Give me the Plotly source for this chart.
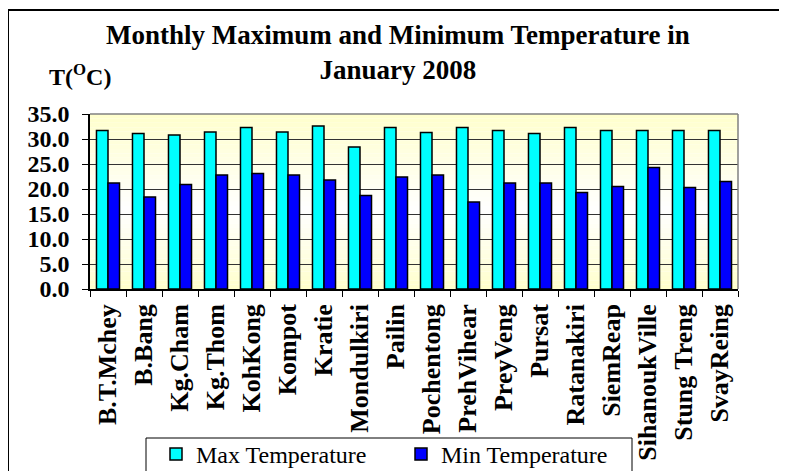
import plotly.graph_objects as go

stations = ["B.T.Mchey", "B.Bang", "Kg.Cham", "Kg.Thom", "KohKong", "Kompot", "Kratie",
            "Mondulkiri", "Pailin", "Pochentong", "PrehVihear", "PreyVeng", "Pursat",
            "Ratanakiri", "SiemReap", "SihanoukVille", "Stung Treng", "SvayReing"]
max_temp = [31.7, 31.1, 30.8, 31.4, 32.3, 31.4, 32.6, 28.4, 32.3, 31.3, 32.3, 31.7,
            31.1, 32.3, 31.7, 31.7, 31.7, 31.7]
min_temp = [21.2, 18.4, 20.9, 22.8, 23.1, 22.8, 21.8, 18.7, 22.4, 22.8, 17.4, 21.2,
            21.2, 19.3, 20.5, 24.3, 20.3, 21.5]
y_ticks = [0, 5, 10, 15, 20, 25, 30, 35]

# page has an 8px body margin; build the figure to fit inside the window
O = 8
W, H = 787 - O, 471 - O
# plot area in page pixels: x 90..738, y 114..289
L, R, T, B = 90 - O, 787 - 738, 114 - O, 471 - 289
pw, ph = W - L - R, H - T - B

def px_x(x):  # page pixel -> paper
    return (x - O - L) / pw

def px_y(y):
    return (H - B - (y - O)) / ph

FONT = "Liberation Serif, Times New Roman, DejaVu Serif, serif"

fig = go.Figure()
fig.add_trace(go.Bar(name="Max Temperature", x=stations, y=max_temp,
                     marker=dict(color="#00FFFF", line=dict(color="black", width=1.5))))
fig.add_trace(go.Bar(name="Min Temperature", x=stations, y=min_temp,
                     marker=dict(color="#0000FF", line=dict(color="black", width=1.5))))

shapes = []
# gradient background of plot area
n = 40
for i in range(n):
    t = (i + 0.5) / n  # 0 bottom, 1 top
    c = 0.45
    d = abs(t - c) / (c if t < c else 1 - c)
    b = int(round(255 - (255 - 204) * d))
    shapes.append(dict(type="rect", xref="x domain", yref="y domain",
                       x0=0, x1=1, y0=i / n, y1=(i + 1) / n,
                       fillcolor=f"rgb(255,255,{b})", line=dict(width=0), layer="below"))
# plot area border (top/right gray)
shapes.append(dict(type="line", xref="paper", yref="paper", x0=0, x1=1, y0=1, y1=1,
                   line=dict(color="#808080", width=1.5)))
shapes.append(dict(type="line", xref="paper", yref="paper", x0=1, x1=1, y0=0, y1=1,
                   line=dict(color="#808080", width=1.5)))
# outer chart border
shapes.append(dict(type="rect", xref="paper", yref="paper",
                   x0=px_x(8), x1=px_x(780), y0=px_y(480), y1=px_y(10),
                   line=dict(color="black", width=2), fillcolor="rgba(0,0,0,0)"))
# legend box
shapes.append(dict(type="rect", xref="paper", yref="paper",
                   x0=px_x(146), x1=px_x(632), y0=px_y(485), y1=px_y(438),
                   line=dict(color="black", width=1), fillcolor="white", layer="above"))

fig.update_layout(
    width=W, height=H,
    margin=dict(l=L, r=R, t=T, b=B, autoexpand=False),
    paper_bgcolor="white", plot_bgcolor="rgba(0,0,0,0)",
    barmode="group", bargap=0.36, bargroupgap=0,
    font=dict(family=FONT, color="black"),
    xaxis=dict(type="category", tickangle=-90, showgrid=False, automargin=False,
               showline=True, linecolor="black", linewidth=1.5,
               ticks="outside", tickson="boundaries", ticklen=6, tickcolor="black",
               tickfont=dict(size=26, family=FONT, color="black", weight="bold"),
               ticklabelstandoff=3),
    yaxis=dict(range=[0, 35], tickvals=y_ticks, tickformat=".1f", automargin=False,
               showgrid=True, gridcolor="#333333", gridwidth=1,
               showline=True, linecolor="black", linewidth=1.5,
               ticks="outside", ticklen=6, tickcolor="black", zeroline=False,
               tickfont=dict(size=24, family=FONT, color="black", weight="bold"),
               ticklabelstandoff=8),
    legend=dict(orientation="h", x=px_x(156), y=px_y(432), xanchor="left", yanchor="top",
                borderwidth=0, bgcolor="rgba(0,0,0,0)",
                font=dict(size=24, family=FONT, color="black", weight="normal"),
                entrywidth=200, traceorder="normal"),
    shapes=shapes,
    annotations=[
        dict(text="<b>Monthly Maximum and Minimum Temperature in<br>January 2008</b>",
             xref="paper", yref="paper", x=px_x(398), y=px_y(18),
             xanchor="center", yanchor="top", showarrow=False,
             font=dict(size=27, family=FONT, color="black")),
        dict(text="<b>T(<sup>O</sup>C)</b>", xref="paper", yref="paper",
             x=px_x(80), y=px_y(75), xanchor="center", yanchor="middle",
             showarrow=False, font=dict(size=24, family=FONT, color="black")),
    ],
)

fig.write_html("out.html")
